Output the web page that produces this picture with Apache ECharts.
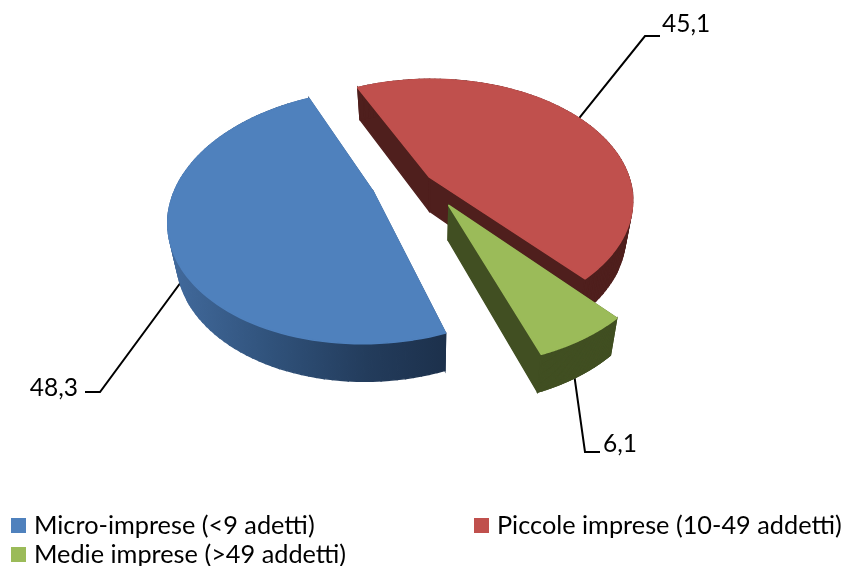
<!DOCTYPE html>
<html><head><meta charset="utf-8">
<style>html,body{margin:0;background:#fff;overflow:hidden}#c{width:845px;height:566px}</style>
<script src="https://cdn.jsdelivr.net/npm/echarts@6/dist/echarts.min.js"></script></head>
<body><div id="c"></div>
<script>
// Share of firms by size class, drawn back to front.
const categories = ['Piccole imprese (10-49 addetti)', 'Medie imprese (>49 addetti)', 'Micro-imprese (<9 adetti)'];
const values = [45.1, 6.1, 48.3];
const topColors = ['#c0504d', '#9bbb59', '#4f81bd'];
const sideColors = ['#4f1f1d', '#414f22', null];
const explode = [0.0399, 0.2453, 0.2657];
// Leader line: start radius on the slice, knee, end x; then label position.
const leaders = [
  { r: 1, knee: [645, 36], endX: 660, label: [662, 24], align: 'left' },
  { r: 0.9, knee: [585, 452], endX: 600, label: [603, 444], align: 'left' },
  { r: 0.77, knee: [100, 392], endX: 85, label: [78, 388], align: 'right' }
];

// Pie plane to screen: a perspective mapping of the tilted disc.
const H = { a: 195.07, b: 34.56, c: 19.87, d: -115.84, cx: 422.91, cy: 179.74, p: -0.042, q: 0.1881 };
const START = -35 * Math.PI / 180;
const total = values.reduce((s, v) => s + v, 0);
const spans = [];
values.reduce((from, v) => {
  const to = from + v / total * 2 * Math.PI;
  spans.push([from, to]);
  return to;
}, START);

function project(i, r, t) {
  const mid = (spans[i][0] + spans[i][1]) / 2;
  const X = r * Math.sin(t) + explode[i] * Math.sin(mid);
  const Y = r * Math.cos(t) + explode[i] * Math.cos(mid);
  const w = 1 + H.p * X + H.q * Y;
  return [H.cx + (H.a * X + H.b * Y) / w, H.cy + (H.c * X + H.d * Y) / w];
}
// Lower edge of the slab: converges slightly towards the vanishing point.
function drop(pt) {
  return [pt[0] - 0.033 * (pt[0] - 425), pt[1] + 32 + 0.022 * (pt[1] - 88)];
}
const blueSide = new echarts.graphic.LinearGradient(175, 0, 449, 0, [
  { offset: 0, color: '#41699b' },
  { offset: 0.35, color: '#30527b' },
  { offset: 0.7, color: '#233c5c' },
  { offset: 1, color: '#1c304b' }
], true);

function renderSlice(i) {
  return function (params, api) {
    const value = api.value(0);
    const rim = [];
    for (let n = 0; n <= 90; n++) {
      rim.push(project(i, 1, spans[i][0] + (spans[i][1] - spans[i][0]) * n / 90));
    }
    const outline = [project(i, 0, 0)].concat(rim);
    const side = sideColors[i] || blueSide;
    const children = [];
    const lead = leaders[i];

    // Leader line from under the slice out to the value label.
    const from = project(i, lead.r, (spans[i][0] + spans[i][1]) / 2);
    children.push({
      type: 'polyline',
      shape: { points: [from, lead.knee, [lead.endX, lead.knee[1]]] },
      style: { stroke: '#000', lineWidth: 2, fill: null }
    });
    children.push({
      type: 'text',
      style: {
        x: lead.label[0],
        y: lead.label[1],
        text: String(value).replace('.', ','),
        fill: '#000',
        font: '24.5px Lato',
        align: lead.align,
        verticalAlign: 'middle'
      }
    });

    // Slab walls, one quad per outline edge, then the top face over them.
    for (let n = 0; n < outline.length; n++) {
      const p = outline[n], q = outline[(n + 1) % outline.length];
      children.push({
        type: 'polygon',
        shape: { points: [p, q, drop(q), drop(p)] },
        style: { fill: side, stroke: side, lineWidth: 1.4 }
      });
    }
    children.push({
      type: 'polygon',
      shape: { points: outline },
      style: { fill: topColors[i], stroke: topColors[i], lineWidth: 1.6, lineJoin: 'round' }
    });
    return { type: 'group', children };
  };
}

const legendSpots = [[474, 513], [11, 542], [11, 513]];
const chart = echarts.init(document.getElementById('c'), null, { renderer: 'canvas' });
chart.setOption({
  animation: false,
  legend: categories.map((name, i) => ({
    data: [name],
    left: legendSpots[i][0],
    top: legendSpots[i][1],
    icon: 'rect',
    itemWidth: 15,
    itemHeight: 15,
    itemGap: 0,
    padding: 0,
    selectedMode: false,
    textStyle: { fontFamily: 'Lato', fontSize: 25.3, color: '#000', padding: [0, 0, 0, 3] }
  })),
  series: categories.map((name, i) => ({
    type: 'custom',
    name,
    coordinateSystem: 'none',
    itemStyle: { color: topColors[i] },
    data: [[values[i]]],
    renderItem: renderSlice(i),
    clip: false,
    silent: true
  }))
});
</script></body></html>
